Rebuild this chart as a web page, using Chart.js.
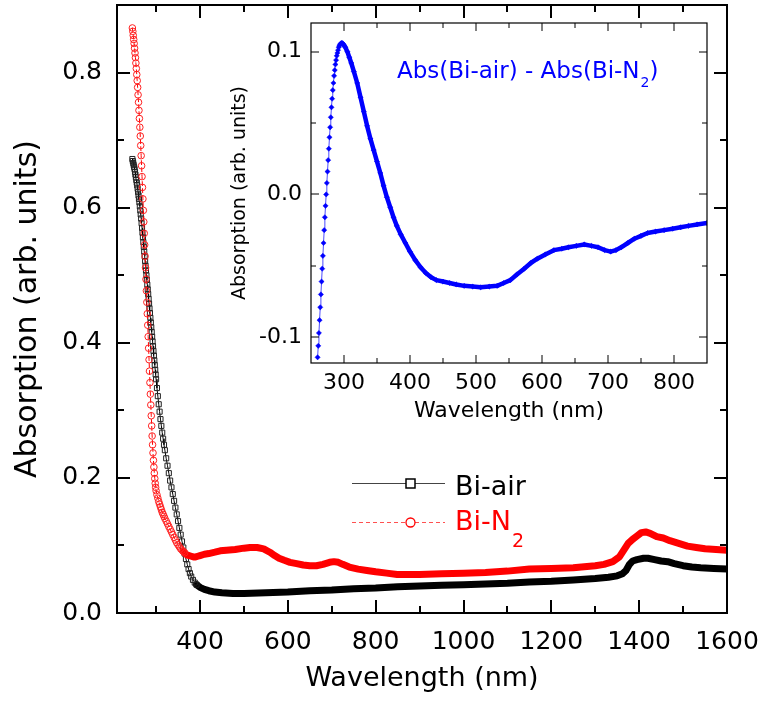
<!DOCTYPE html>
<html>
<head>
<meta charset="utf-8">
<script src="https://cdn.jsdelivr.net/npm/chart.js@4.4.1/dist/chart.umd.min.js"></script>
<style>
  body { margin: 0; background: #fff; }
  #wrap { position: relative; width: 762px; height: 707px; background: #fff; }
  #main { position: absolute; left: 0; top: 0; }
  #inset { position: absolute; left: 200px; top: 0; }
</style>
</head>
<body>
<div id="wrap">
  <canvas id="main" width="762" height="707"></canvas>
  <canvas id="inset" width="540" height="440"></canvas>
</div>
<script>
// ---------- DATA ----------
// Bi-air (black squares)
var airWl = [246,247,248,249,250,251,252,253,254,255,256,257,258,259,260,261,262,263,264,265,266,267,268,269,270,271,272,273,274,275,276,277,278,279,280,281,282,283,284,285,286,287,288,289,290,291,292,293,294,295,296,297,298,299,300,
  302,304,306,308,310,312,314,316,318,320,323,326,329,332,335,338,341,344,347,350,353,356,359,362,365,368,371,374,377,380,
  384,388,392,396,400,410,420,434,450,475,500,550,600,650,700,750,800,850,900,950,1000,1050,1100,1150,1200,1250,1300,1330,1350,1362,
  1370,1378,1385,1395,1410,1420,1435,1450,1465,1480,1500,1520,1540,1570,1600];
var airAbs = [0.672,0.669,0.666,0.663,0.660,0.657,0.653,0.649,0.645,0.641,0.637,0.633,0.628,0.623,0.618,0.613,0.608,0.602,0.596,0.590,0.584,0.577,0.570,0.563,0.556,0.549,0.542,0.535,0.528,0.521,0.514,0.507,0.500,0.493,0.486,0.479,0.472,0.465,0.458,0.451,0.444,0.437,0.430,0.423,0.416,0.409,0.402,0.395,0.388,0.381,0.374,0.367,0.360,0.353,0.346,
  0.333,0.321,0.309,0.298,0.287,0.277,0.267,0.258,0.249,0.241,0.229,0.218,0.207,0.196,0.186,0.176,0.166,0.156,0.146,0.136,0.126,0.116,0.106,0.097,0.088,0.080,0.072,0.065,0.059,0.054,
  0.049,0.045,0.042,0.040,0.038,0.035,0.033,0.031,0.030,0.029,0.029,0.030,0.031,0.033,0.034,0.036,0.037,0.039,0.040,0.041,0.042,0.043,0.044,0.046,0.047,0.049,0.051,0.053,0.055,0.058,
  0.063,0.072,0.077,0.079,0.081,0.081,0.079,0.077,0.076,0.073,0.070,0.068,0.067,0.066,0.065];

// Bi-N2 (red circles)
var n2Wl = [246,247,248,249,250,251,252,253,254,255,256,257,258,259,260,261,262,263,264,265,266,267,268,269,270,271,272,273,274,275,276,277,278,279,280,281,282,283,284,285,286,287,288,289,290,291,292,293,294,295,296,297,298,299,300,
  302,304,306,308,310,312,314,316,318,320,323,326,329,332,335,338,341,344,347,350,353,356,359,362,365,370,375,380,385,390,
  395,400,410,420,434,446,460,480,500,514,530,545,559,570,580,592,605,620,635,650,665,680,695,705,715,725,740,760,780,800,
  825,849,875,900,950,1000,1050,1100,1150,1200,1250,1300,1320,1340,1355,1365,1375,1385,1395,1405,1415,1425,1440,1455,1470,1490,1510,1530,1550,1575,1600];
var n2Abs = [0.866,0.861,0.855,0.849,0.843,0.836,0.829,0.822,0.814,0.806,0.797,0.788,0.778,0.767,0.756,0.744,0.732,0.719,0.706,0.692,0.677,0.662,0.646,0.630,0.613,0.596,0.579,0.562,0.545,0.528,0.511,0.494,0.477,0.460,0.443,0.426,0.409,0.392,0.375,0.358,0.341,0.324,0.308,0.292,0.277,0.262,0.249,0.237,0.226,0.216,0.207,0.199,0.192,0.186,0.181,
  0.175,0.170,0.165,0.161,0.157,0.153,0.149,0.146,0.143,0.140,0.136,0.132,0.128,0.124,0.120,0.116,0.112,0.108,0.104,0.101,0.098,0.095,0.093,0.091,0.089,0.086,0.085,0.084,0.083,0.083,
  0.084,0.085,0.087,0.088,0.090,0.092,0.093,0.094,0.096,0.097,0.097,0.095,0.090,0.085,0.081,0.078,0.075,0.073,0.071,0.070,0.070,0.072,0.075,0.076,0.075,0.072,0.068,0.065,0.063,0.061,
  0.059,0.057,0.057,0.057,0.058,0.059,0.060,0.062,0.065,0.066,0.067,0.070,0.072,0.076,0.083,0.093,0.103,0.109,0.114,0.119,0.120,0.118,0.113,0.111,0.107,0.103,0.099,0.097,0.095,0.094,0.093];

// inset: Abs(Bi-air) - Abs(Bi-N2)
var diffWl = [260,261,262,263,264,265,266,267,268,269,270,271,272,273,274,275,276,277,278,279,280,281,282,283,284,285,286,287,288,289,290,291,292,293,294,295,296,297,298,299,300,
  302,305,308,311,315,320,325,330,335,340,345,350,355,360,365,370,375,380,386,393,400,408,416,424,432,440,450,460,470,482,
  495,507,520,532,542,552,562,573,583,593,605,618,630,640,652,664,675,685,695,704,712,720,730,740,750,760,772,785,798,810,822,835,850];
var diffAbs = [-0.114,-0.106,-0.097,-0.088,-0.079,-0.070,-0.061,-0.052,-0.043,-0.034,-0.025,-0.016,-0.008,0.000,0.008,0.016,0.024,0.032,0.040,0.047,0.054,0.061,0.067,0.073,0.078,0.083,0.087,0.091,0.094,0.097,0.099,0.101,0.103,0.104,0.105,0.1055,0.106,0.106,0.1058,0.105,0.1045,
  0.103,0.100,0.096,0.092,0.086,0.078,0.068,0.058,0.048,0.039,0.031,0.023,0.015,0.006,-0.002,-0.009,-0.016,-0.022,-0.028,-0.034,-0.040,-0.046,-0.051,-0.055,-0.058,-0.060,-0.061,-0.062,-0.063,-0.064,
  -0.0645,-0.065,-0.0645,-0.064,-0.062,-0.060,-0.056,-0.052,-0.048,-0.045,-0.042,-0.039,-0.038,-0.037,-0.036,-0.035,-0.036,-0.037,-0.039,-0.040,-0.039,-0.037,-0.034,-0.031,-0.029,-0.027,-0.026,-0.025,-0.024,-0.023,-0.022,-0.021,-0.020];

// tick values
var mainXMajor = [400, 600, 800, 1000, 1200, 1400, 1600];
var mainXMinor = [300, 500, 700, 900, 1100, 1300, 1500];
var mainYMajor = [0, 0.2, 0.4, 0.6, 0.8];
var mainYMinor = [0.1, 0.3, 0.5, 0.7];
var insetXMajor = [300, 400, 500, 600, 700, 800];
var insetXMinor = [350, 450, 550, 650, 750];
var insetYMajor = [-0.1, 0, 0.1];
var insetYMinor = [-0.05, 0.05];

var FONT = "'DejaVu Sans', 'Liberation Sans', sans-serif";

function pts(xs, ys) {
  return xs.map(function (x, i) { return {x: x, y: ys[i]}; });
}

// inward ticks on all four sides + box frame
function framePlugin(o) {
  return {
    id: 'frameTicks',
    afterDatasetsDraw: function (chart) {
      var ctx = chart.ctx, a = chart.chartArea, sx = chart.scales.x, sy = chart.scales.y;
      ctx.save();
      ctx.strokeStyle = '#000';
      ctx.lineWidth = o.tickWidth;
      ctx.beginPath();
      function xt(vals, len) {
        vals.forEach(function (v) {
          var p = Math.round(sx.getPixelForValue(v));
          ctx.moveTo(p, a.bottom); ctx.lineTo(p, a.bottom - len);
          ctx.moveTo(p, a.top); ctx.lineTo(p, a.top + len);
        });
      }
      function yt(vals, len) {
        vals.forEach(function (v) {
          var p = Math.round(sy.getPixelForValue(v));
          ctx.moveTo(a.left, p); ctx.lineTo(a.left + len, p);
          ctx.moveTo(a.right, p); ctx.lineTo(a.right - len, p);
        });
      }
      xt(o.xMajor, o.major); xt(o.xMinor, o.minor);
      yt(o.yMajor, o.major); yt(o.yMinor, o.minor);
      ctx.stroke();
      ctx.lineWidth = o.frameWidth;
      ctx.strokeRect(a.left, a.top, a.right - a.left, a.bottom - a.top);
      ctx.restore();
    }
  };
}

function fixAxis(size, isX) {
  return function (ax) {
    if (isX) ax.height = size; else ax.width = size;
    ax.paddingTop = 0; ax.paddingBottom = 0; ax.paddingLeft = 0; ax.paddingRight = 0;
  };
}

// legend for main chart, drawn by hand (subscript in N2)
var legendPlugin = {
  id: 'handLegend',
  afterDraw: function (chart) {
    var ctx = chart.ctx;
    ctx.save();
    // Bi-air
    ctx.strokeStyle = '#444';
    ctx.lineWidth = 1;
    ctx.beginPath(); ctx.moveTo(352, 483.5); ctx.lineTo(445, 483.5); ctx.stroke();
    ctx.fillStyle = '#fff';
    ctx.fillRect(406, 479, 9, 9);
    ctx.strokeStyle = '#000';
    ctx.lineWidth = 1.5;
    ctx.strokeRect(406, 479, 9, 9);
    // Bi-N2
    ctx.strokeStyle = '#ff5050';
    ctx.lineWidth = 1;
    ctx.setLineDash([4, 3]);
    ctx.beginPath(); ctx.moveTo(352, 522.5); ctx.lineTo(445, 522.5); ctx.stroke();
    ctx.setLineDash([]);
    ctx.beginPath(); ctx.arc(410.5, 522.5, 4.5, 0, Math.PI * 2);
    ctx.fillStyle = '#fff'; ctx.fill();
    ctx.strokeStyle = '#ff0000'; ctx.lineWidth = 1.3; ctx.stroke();
    // texts
    ctx.textBaseline = 'alphabetic';
    ctx.textAlign = 'left';
    ctx.font = '27px ' + FONT;
    ctx.fillStyle = '#000';
    ctx.fillText('Bi-air', 455, 495);
    ctx.fillStyle = '#ff0000';
    ctx.fillText('Bi-N', 455, 530);
    var w = ctx.measureText('Bi-N').width;
    ctx.font = '19px ' + FONT;
    ctx.fillText('2', 455 + w + 1, 547);
    ctx.restore();
  }
};

var insetLabelPlugin = {
  id: 'insetLabel',
  afterDraw: function (chart) {
    var ctx = chart.ctx;
    ctx.save();
    ctx.fillStyle = '#0000ff';
    ctx.textBaseline = 'alphabetic';
    ctx.textAlign = 'left';
    ctx.font = '23px ' + FONT;
    var x = 197, t = 'Abs(Bi-air) - Abs(Bi-N';
    ctx.fillText(t, x, 78);
    x += ctx.measureText(t).width;
    ctx.font = '14px ' + FONT;
    ctx.fillText('2', x + 1, 87);
    x += ctx.measureText('2').width + 1;
    ctx.font = '23px ' + FONT;
    ctx.fillText(')', x, 78);
    ctx.restore();
  }
};

// ---------- MAIN CHART ----------
new Chart(document.getElementById('main'), {
  type: 'line',
  data: {
    datasets: [{
      label: 'Bi-air',
      data: pts(airWl, airAbs),
      borderColor: '#000',
      borderWidth: 1,
      pointStyle: 'rect',
      pointRadius: function (c) { return c.raw && c.raw.x <= 395 ? 3.6 : 0; },
      pointBorderColor: '#222',
      pointBorderWidth: 1,
      pointBackgroundColor: 'rgba(255,255,255,0)',
      borderCapStyle: 'round',
      borderJoinStyle: 'round',
      segment: {
        borderWidth: function (c) { return c.p0.parsed.x >= 392 ? 7 : 1; }
      },
      order: 2
    }, {
      label: 'Bi-N2',
      data: pts(n2Wl, n2Abs),
      borderColor: '#ff0000',
      borderWidth: 1,
      borderDash: [4, 3],
      pointStyle: 'circle',
      pointRadius: function (c) { return c.raw && c.raw.x <= 365 ? 3.3 : 0; },
      pointBorderColor: '#ff2020',
      pointBorderWidth: 1,
      pointBackgroundColor: 'rgba(255,255,255,0)',
      borderCapStyle: 'round',
      borderJoinStyle: 'round',
      segment: {
        borderWidth: function (c) { return c.p0.parsed.x >= 362 ? 7 : 1; },
        borderDash: function (c) { return c.p0.parsed.x >= 362 ? [] : [4, 3]; }
      },
      order: 1
    }]
  },
  options: {
    responsive: false,
    animation: false,
    layout: { padding: { left: 0, top: 5, right: 35, bottom: 0 } },
    plugins: { legend: { display: false }, tooltip: { enabled: false } },
    scales: {
      x: {
        type: 'linear', min: 211, max: 1600,
        afterBuildTicks: function (ax) { ax.ticks = mainXMajor.map(function (v) { return {value: v}; }); },
        afterFit: fixAxis(94, true),
        grid: { display: false, drawTicks: false },
        border: { display: false },
        ticks: { color: '#000', font: { family: FONT, size: 25 }, padding: 14, maxRotation: 0, autoSkip: false,
                 callback: function (v) { return String(v); } },
        title: { display: true, text: 'Wavelength (nm)', color: '#000', font: { family: FONT, size: 27 }, padding: { top: 0, bottom: 12 } }
      },
      y: {
        type: 'linear', min: 0, max: 0.9,
        afterBuildTicks: function (ax) { ax.ticks = mainYMajor.map(function (v) { return {value: v}; }); },
        afterFit: fixAxis(117, false),
        grid: { display: false, drawTicks: false },
        border: { display: false },
        ticks: { color: '#000', font: { family: FONT, size: 25 }, padding: 15,
                 callback: function (v) { return v.toFixed(1); } },
        title: { display: true, text: 'Absorption (arb. units)', color: '#000', font: { family: FONT, size: 30 }, padding: { top: 10, bottom: 0 } }
      }
    }
  },
  plugins: [framePlugin({ xMajor: mainXMajor, xMinor: mainXMinor, yMajor: mainYMajor, yMinor: mainYMinor,
                          major: 13, minor: 7, tickWidth: 2, frameWidth: 2 }), legendPlugin]
});

// ---------- INSET ----------
new Chart(document.getElementById('inset'), {
  type: 'line',
  data: {
    datasets: [{
      label: 'diff',
      data: pts(diffWl, diffAbs),
      borderColor: '#0000ff',
      borderWidth: 1,
      pointStyle: 'rectRot',
      pointRadius: 2.6,
      pointBackgroundColor: '#0000ff',
      pointBorderColor: '#0000ff',
      pointBorderWidth: 0.5,
      borderCapStyle: 'round',
      borderJoinStyle: 'round',
      segment: {
        borderWidth: function (c) { return c.p0.parsed.x >= 299 ? 4.5 : 1; },
        borderColor: function (c) { return c.p0.parsed.x >= 299 ? '#0000ff' : '#4c4cff'; }
      }
    }]
  },
  options: {
    responsive: false,
    animation: false,
    layout: { padding: { left: 0, top: 23, right: 33, bottom: 0 } },
    plugins: { legend: { display: false }, tooltip: { enabled: false } },
    scales: {
      x: {
        type: 'linear', min: 250, max: 850,
        afterBuildTicks: function (ax) { ax.ticks = insetXMajor.map(function (v) { return {value: v}; }); },
        afterFit: fixAxis(77, true),
        grid: { display: false, drawTicks: false },
        border: { display: false },
        ticks: { color: '#000', font: { family: FONT, size: 22 }, padding: 7, maxRotation: 0, autoSkip: false,
                 callback: function (v) { return String(v); } },
        title: { display: true, text: 'Wavelength (nm)', color: '#000', font: { family: FONT, size: 22 }, padding: { top: 0, bottom: 16 } }
      },
      y: {
        type: 'linear', min: -0.118, max: 0.12,
        afterBuildTicks: function (ax) { ax.ticks = insetYMajor.map(function (v) { return {value: v}; }); },
        afterFit: fixAxis(111, false),
        grid: { display: false, drawTicks: false },
        border: { display: false },
        ticks: { color: '#000', font: { family: FONT, size: 22 }, padding: 9,
                 callback: function (v) { return v.toFixed(1); } },
        title: { display: true, text: 'Absorption (arb. units)', color: '#000', font: { family: FONT, size: 19 }, padding: { top: 29, bottom: 0 } }
      }
    }
  },
  plugins: [framePlugin({ xMajor: insetXMajor, xMinor: insetXMinor, yMajor: insetYMajor, yMinor: insetYMinor,
                          major: 8, minor: 5, tickWidth: 1, frameWidth: 1.2 }), insetLabelPlugin]
});
</script>
</body>
</html>
